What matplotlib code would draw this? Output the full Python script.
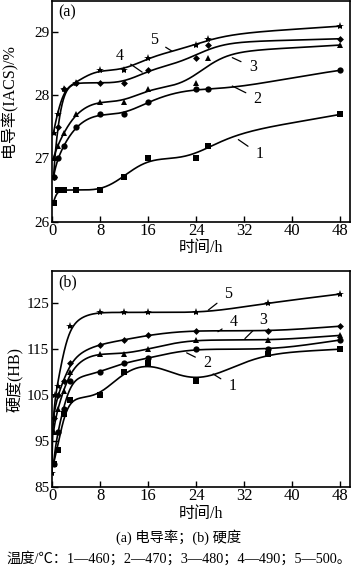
import numpy as np
import matplotlib
matplotlib.use("Agg")
import matplotlib.pyplot as plt

plt.rcParams['font.family'] = ['Liberation Serif', 'Noto Sans CJK SC']

# (a) conductivity, %IACS
t_a = [0.25, 1, 2, 4, 8, 12, 16, 24, 26, 48]
cond_1 = [26.3, 26.5, 26.5, 26.5, 26.5, 26.7, 27.0, 27.0, 27.2, 27.7]
cond_2 = [26.7, 27.0, 27.2, 27.5, 27.7, 27.7, 27.9, 28.1, 28.1, 28.4]
cond_3 = [27.0, 27.2, 27.4, 27.7, 27.9, 27.9, 28.1, 28.2, 28.6, 28.8]
cond_4 = [26.7, 27.5, 28.1, 28.2, 28.2, 28.2, 28.4, 28.6, 28.8, 28.9]
cond_5 = [27.4, 27.7, 28.1, 28.2, 28.4, 28.4, 28.6, 28.8, 28.9, 29.1]

# (b) hardness, HB
t_b = [0.25, 1, 2, 3, 8, 12, 16, 24, 36, 48]
t_b5 = [0, 0.5, 1, 3, 8, 12, 16, 24, 36, 48]
hb_1 = [90, 93, 101, 104, 105, 110, 112, 108, 114, 115]
hb_2 = [90, 97, 102, 108, 110, 112, 113, 115, 115, 117]
hb_3 = [97, 102, 106, 110, 114, 114, 115, 117, 117, 118]
hb_4 = [100, 105, 108, 112, 116, 117, 118, 119, 119, 120]
hb_5 = [88, 105, 107, 120, 123, 123, 123, 123, 125, 127]

markers = ['s', 'o', '^', 'D', '*']
msizes = [4, 4.5, 4.5, 3.5, 6]


def pchip(x, y, xn):
    x = np.asarray(x, float)
    y = np.asarray(y, float)
    h = np.diff(x)
    d = np.diff(y) / h
    m = np.zeros_like(y)
    for k in range(1, len(x) - 1):
        if d[k - 1] * d[k] > 0:
            w1 = 2 * h[k] + h[k - 1]
            w2 = h[k] + 2 * h[k - 1]
            m[k] = (w1 + w2) / (w1 / d[k - 1] + w2 / d[k])
    m[0] = d[0]
    m[-1] = d[-1]
    idx = np.clip(np.searchsorted(x, xn) - 1, 0, len(x) - 2)
    s = (xn - x[idx]) / h[idx]
    h00 = 2 * s**3 - 3 * s**2 + 1
    h10 = s**3 - 2 * s**2 + s
    h01 = -2 * s**3 + 3 * s**2
    h11 = s**3 - s**2
    return h00 * y[idx] + h10 * h[idx] * m[idx] + h01 * y[idx + 1] + h11 * h[idx] * m[idx + 1]


def smooth_curve(x, y, sigma=0.3):
    # interpolate in sqrt(t) so the fast early rise stays sharp, then soften the corners
    u = np.sqrt(np.asarray(x, float))
    n = 600
    un = np.linspace(u[0], u[-1], n)
    yn = pchip(u, y, un)
    du = un[1] - un[0]
    # odd reflection at both ends keeps the end points in place
    k = int(4 * sigma / du)
    left = 2 * yn[0] - yn[k:0:-1]
    right = 2 * yn[-1] - yn[-2:-k - 2:-1]
    ext = np.concatenate([left, yn, right])
    g = np.exp(-0.5 * (np.arange(-k, k + 1) * du / sigma) ** 2)
    g /= g.sum()
    out = np.convolve(ext, g, mode='same')[k:k + n]
    return un ** 2, out


def draw(ax, xs, ys):
    for x, y, mk, ms in zip(xs, ys, markers, msizes):
        xc, yc = smooth_curve(x, y)
        ax.plot(xc, yc, color='black', lw=1.2)
        ax.plot(x, y, mk, color='black', ms=ms, mew=0)


def style(ax):
    ax.set_xlim(0, 49.6)
    ax.set_xticks([0, 8, 16, 24, 32, 40, 48])
    ax.tick_params(direction='in', length=4, labelsize=11, pad=2, width=1)
    ax.tick_params(axis='x', labelsize=12, pad=1)
    for sp in ax.spines.values():
        sp.set_linewidth(1.2)
    ax.set_xlabel('时间/h', fontsize=11.5, labelpad=1)


def label(ax, txt, xy, xytext):
    ax.annotate(txt, xy=xy, xytext=xytext, fontsize=11.5, ha='center', va='center',
                arrowprops=dict(arrowstyle='-', color='black', lw=0.9, shrinkA=4, shrinkB=0))


fig = plt.figure(figsize=(3.54, 5.73), dpi=100)

ax1 = fig.add_axes([0.147, 0.6134, 0.842, 0.385])
draw(ax1, [t_a] * 5, [cond_1, cond_2, cond_3, cond_4, cond_5])
style(ax1)
ax1.set_ylim(26, 29.5)
ax1.set_yticks([26, 27, 28, 29])
ax1.set_ylabel('电导率(IACS)/%', fontsize=11.5, labelpad=2)
ax1.yaxis.set_label_coords(-0.115, 0.55)
ax1.text(0.02, 0.985, '(a)', transform=ax1.transAxes, fontsize=11.5, va='top')
label(ax1, '5', (20, 28.7), (17, 28.88))
label(ax1, '4', (15, 28.37), (11.2, 28.62))
label(ax1, '3', (30, 28.6), (33.4, 28.45))
label(ax1, '2', (30, 28.15), (34.2, 27.95))
label(ax1, '1', (31, 27.3), (34.5, 27.07))

ax2 = fig.add_axes([0.147, 0.150, 0.842, 0.377])
draw(ax2, [t_b, t_b, t_b, t_b, t_b5], [hb_1, hb_2, hb_3, hb_4, hb_5])
style(ax2)
ax2.set_ylim(85, 132)
ax2.set_yticks([85, 95, 105, 115, 125])
ax2.set_ylabel('硬度(HB)', fontsize=11.5, labelpad=2)
ax2.text(0.02, 0.985, '(b)', transform=ax2.transAxes, fontsize=11.5, va='top')
label(ax2, '5', (26, 123.5), (29.3, 126.9))
label(ax2, '4', (27.6, 118.8), (30.2, 121))
label(ax2, '3', (32.1, 117.3), (35.2, 121.3))
label(ax2, '2', (22.4, 114.2), (25.8, 112))
label(ax2, '1', (26.8, 109.6), (30, 107))

fig.text(0.505, 0.063, '(a) 电导率；(b) 硬度', fontsize=10.3, ha='center', va='center')
fig.text(0.017, 0.026, '温度/℃：1—460；2—470；3—480；4—490；5—500。', fontsize=10.3,
         ha='left', va='center')

fig.savefig('out.png', dpi=100)
